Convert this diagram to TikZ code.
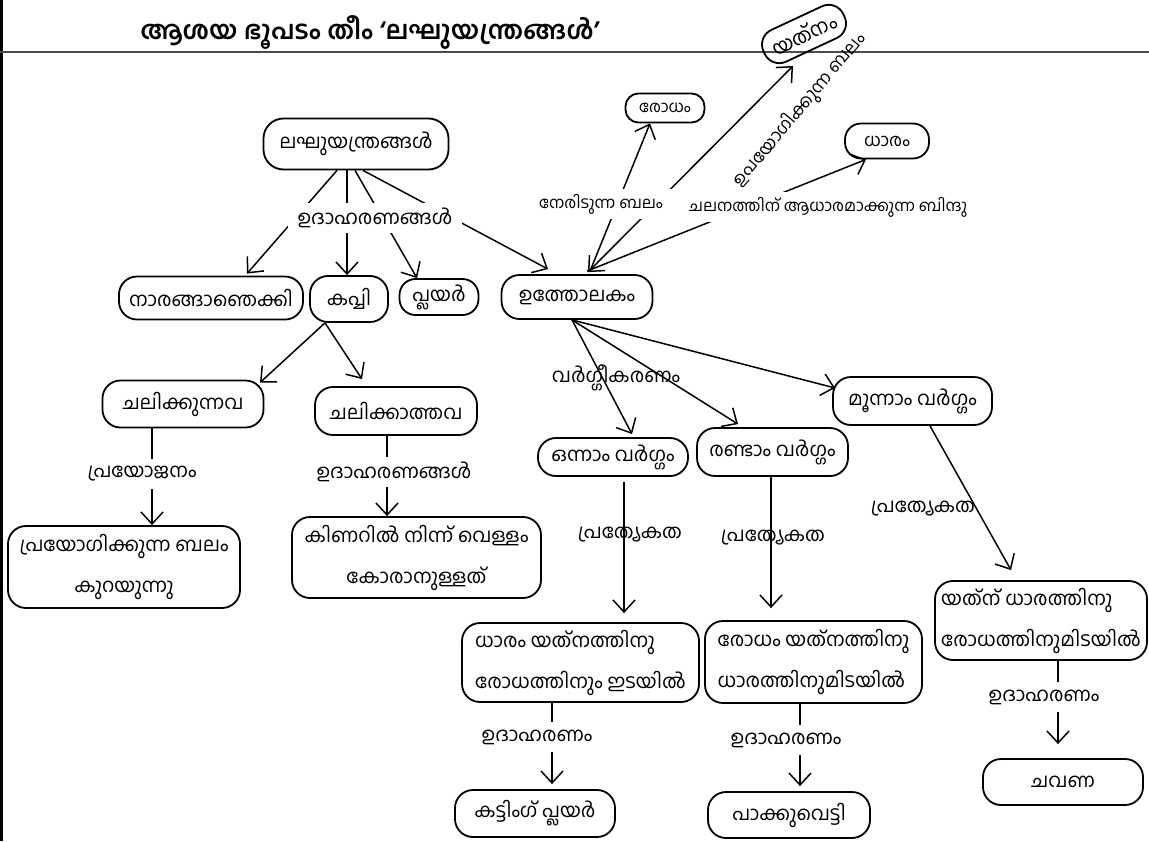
\documentclass[tikz,border=0pt]{standalone}
\usepackage{fontspec}
\newfontfamily\mal[Script=Malayalam]{Hind Kochi}
\usetikzlibrary{arrows.meta,calc}
\newcommand\mynf{\mal\fontsize{19.5}{23}\selectfont}
\newcommand\mytf{\mal\fontsize{19.5}{41}\selectfont}
\newcommand\mysf{\mal\fontsize{16}{19}\selectfont}
\newcommand\mymf{\mal\fontsize{17.5}{21}\selectfont}
\tikzset{
  bx/.style={draw, line width=1.8pt, rounded corners=18pt, inner sep=0pt, align=center, font=\mynf},
  bx2/.style={bx, font=\mytf},
  lb/.style={inner sep=2pt, font=\mynf},
  wlb/.style={lb, fill=white, inner xsep=10pt, inner ysep=1pt, minimum height=30pt},
  ln/.style={line width=1.5pt},
  ar/.style={ln, -{Straight Barb[length=12pt,width=22pt]}},
  arb/.style={ln, {Straight Barb[length=12pt,width=22pt]}-{Straight Barb[length=12pt,width=22pt]}},
}
\begin{document}
\begin{tikzpicture}[x=1pt,y=-1pt]
\useasboundingbox (0,0) rectangle (1149,841);
% frame
\draw[line width=3pt] (1.5,0) -- (1.5,841);
\draw[line width=1.5pt, black!70] (0,52) -- (1149,52);
\node[font=\mal\bfseries\fontsize{25.5}{28}\selectfont] (title) at (370,32) {ആശയ ഭൂപടം തീം ‘ലഘുയന്ത്രങ്ങൾ’};
% boxes
\node[bx, minimum width=185pt, minimum height=51pt, rounded corners=20pt] (lagh) at (356,144) {ലഘുയന്ത്രങ്ങൾ};
\node[bx, minimum width=184pt, minimum height=43pt] (nara) at (211,298) {നാരങ്ങാഞെക്കി};
\node[bx, minimum width=78pt, minimum height=46pt] (kappi) at (349,299) {കപ്പി};
\node[bx, minimum width=79pt, minimum height=36pt, rounded corners=16pt] (plier) at (439,297) {പ്ലയർ};
\node[bx, minimum width=151pt, minimum height=44pt] (uth) at (577,297) {ഉത്തോലകം};
\node[bx, minimum width=79pt, minimum height=29pt, rounded corners=13pt, font=\mysf] (rodham) at (665,108) {രോധം};
\node[bx, minimum width=88pt, minimum height=35pt, rounded corners=16pt, rotate=25, font=\mal\fontsize{20}{23}\selectfont] (yathnam) at (804,34) {യത്നം};
\node[bx, minimum width=84pt, minimum height=35pt, rounded corners=16pt, font=\mymf] (dharam) at (887,141) {ധാരം};
\node[bx, minimum width=161pt, minimum height=47pt] (chal1) at (183,404) {ചലിക്കുന്നവ};
\node[bx, minimum width=162pt, minimum height=48pt] (chal2) at (396,411) {ചലിക്കാത്തവ};
\node[bx2, minimum width=232pt, minimum height=82pt, align=center] (pbox) at (124,567) {പ്രയോഗിക്കുന്ന ബലം\\കുറയുന്നു};
\node[bx2, minimum width=249pt, minimum height=81pt, align=center] (kbox) at (416.5,557.5) {കിണറിൽ നിന്ന് വെള്ളം\\കോരാനുള്ളത്};
\node[bx, minimum width=150pt, minimum height=38pt] (onnam) at (613,457) {ഒന്നാം വർഗ്ഗം};
\node[bx, minimum width=151pt, minimum height=48pt] (randam) at (772.5,452) {രണ്ടാം വർഗ്ഗം};
\node[bx, minimum width=159pt, minimum height=48pt] (moonnam) at (912.5,401) {മൂന്നാം വർഗ്ഗം};
\node[bx2, minimum width=237pt, minimum height=79pt, align=left] (dbox) at (580.5,662.5) {ധാരം യത്നത്തിനു\\രോധത്തിനും ഇടയിൽ};
\node[bx2, minimum width=217pt, minimum height=82pt, align=left] (rbox) at (813.5,662) {രോധം യത്നത്തിനു\\ധാരത്തിനുമിടയിൽ};
\node[bx2, minimum width=212pt, minimum height=79pt, align=left] (ybox) at (1041,620.5) {യത്ന് ധാരത്തിനു\\രോധത്തിനുമിടയിൽ};
\node[bx, minimum width=160pt, minimum height=47pt] (cutting) at (535,813.5) {കട്ടിംഗ് പ്ലയർ};
\node[bx, minimum width=162pt, minimum height=46pt] (pakku) at (789,815) {പാക്കുവെട്ടി};
\node[bx, minimum width=160pt, minimum height=46pt] (chavana) at (1063,782) {ചവണ};
% x positions of vertical connectors
\coordinate (xa) at (152,0);
\coordinate (xc) at (387,0);
\coordinate (xd) at (624,0);
\coordinate (xe) at (771,0);
\coordinate (xf) at (552,0);
\coordinate (xg) at (800,0);
\coordinate (xh) at (1058,0);
% connectors
\draw[ar] ([xshift=-19pt]lagh.south) -- ([xshift=36pt,yshift=2pt]nara.north);
\draw[ar] ([xshift=-9pt]lagh.south) -- ([xshift=-2pt]kappi.north);
\draw[ar] ([xshift=-1pt]lagh.south) -- ([xshift=-22pt]plier.north);
\draw[ar] ([xshift=7pt]lagh.south) -- ([xshift=-29pt,yshift=5pt]uth.north);
\draw[ar] ([xshift=-24pt]kappi.south) -- ([xshift=77pt,yshift=-3pt]chal1.north);
\draw[ar] ([xshift=-24pt]kappi.south) -- ([xshift=-34pt,yshift=7pt]chal2.north);
\draw[ar] (chal1.south -| xa) -- (pbox.north -| xa);
\draw[ar] (chal2.south -| xc) -- (kbox.north -| xc);
\draw[ar] ([xshift=-5pt]uth.south) -- ([xshift=19pt,yshift=3pt]onnam.north);
\draw[ar] ([xshift=-5pt]uth.south) -- ([xshift=-34.5pt,yshift=3pt]randam.north);
\draw[ar] ([xshift=-5pt]uth.south) -- ([xshift=3pt,yshift=13pt]moonnam.west);
\draw[ar, shorten <=5pt, shorten >=9pt] (onnam.south -| xd) -- (dbox.north -| xd);
\draw[ar, shorten >=12pt] (randam.south -| xe) -- (rbox.north -| xe);
\draw[ar] ([xshift=17.5pt]moonnam.south) -- ([xshift=-30pt,yshift=10pt]ybox.north);
\draw[ar, shorten >=5pt] (dbox.south -| xf) -- (cutting.north -| xf);
\draw[ar, shorten >=5pt] (rbox.south -| xg) -- (pakku.north -| xg);
\draw[ar, shorten >=14pt] (ybox.south -| xh) -- (chavana.north -| xh);
\draw[ar] ([xshift=13pt,yshift=3pt]uth.north) -- ([xshift=-15pt]rodham.south);
\draw[arb] ([xshift=11pt,yshift=2pt]uth.north) -- ([xshift=-11pt,yshift=-32pt]yathnam.center);
\draw[ar] ([xshift=10pt,yshift=3pt]uth.north) -- ([xshift=-21pt]dharam.south);
% linking phrases
\node[wlb] (u1) at (375,218) {ഉദാഹരണങ്ങൾ};
\node[wlb] (pj) at (142,474) {പ്രയോജനം};
\node[wlb] (u2) at (394,472) {ഉദാഹരണങ്ങൾ};
\node[lb] (vg) at (616,378) {വർഗ്ഗീകരണം};
\node[lb] (pr1) at (630,535) {പ്രത്യേകത};
\node[lb] (pr2) at (773,538) {പ്രത്യേകത};
\node[lb] (pr3) at (923,509) {പ്രത്യേകത};
\node[wlb] (e1) at (537,737) {ഉദാഹരണം};
\node[wlb] (e2) at (786,740) {ഉദാഹരണം};
\node[wlb] (e3) at (1044,697) {ഉദാഹരണം};
\node[wlb, font=\mysf] (ner) at (601,204) {നേരിടുന്ന ബലം};
\node[wlb, font=\mysf] (cha) at (828,207) {ചലനത്തിന് ആധാരമാക്കുന്ന ബിന്ദു};
\node[lb, font=\mymf, rotate=50, inner sep=0pt] (upa) at (800,110) {ഉപയോഗിക്കുന്ന ബലം};
\end{tikzpicture}
\end{document}
